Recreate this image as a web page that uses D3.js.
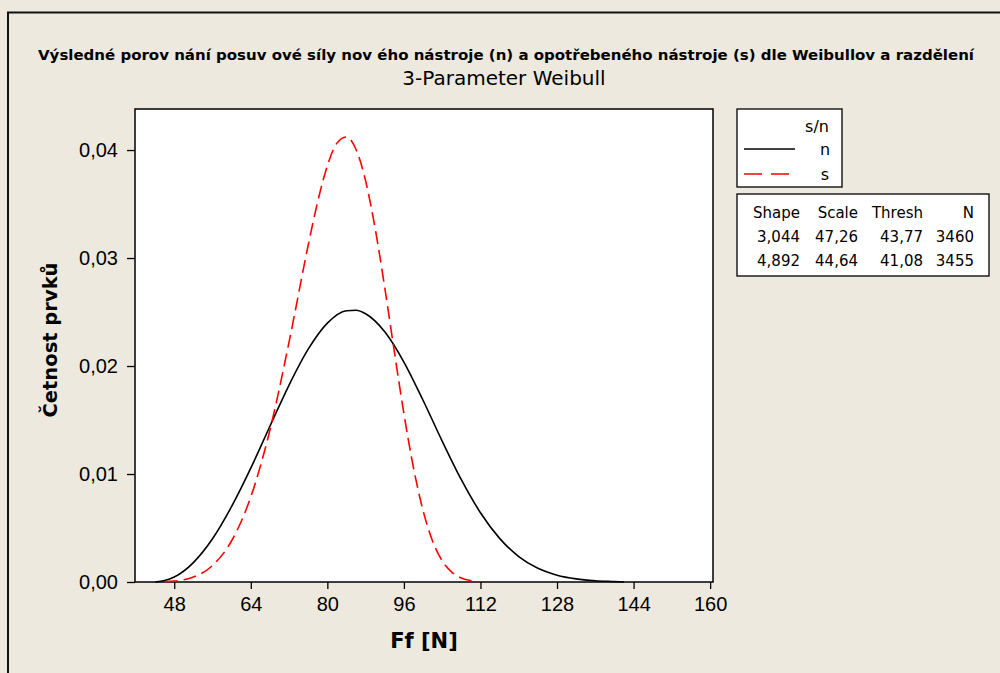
<!DOCTYPE html>
<html><head><meta charset="utf-8">
<script src="https://cdn.jsdelivr.net/npm/d3@7"></script>
<style>
html,body{margin:0;padding:0;background:#EDE9DF;}
svg{display:block;font-family:"DejaVu Sans","Liberation Sans",Arial,sans-serif;}
</style></head>
<body>
<svg id="chart" width="1000" height="673"></svg>
<script>
// ---- data ----
const titleText = "Výsledné porov nání posuv ové síly nov ého nástroje (n) a opotřebeného nástroje (s) dle Weibullov a razdělení";
const subtitleText = "3-Parameter Weibull";
const xLabel = "Ff [N]";
const yLabel = "Četnost prvků";
const xTicks = [48, 64, 80, 96, 112, 128, 144, 160];
const yTicks = [0, 0.01, 0.02, 0.03, 0.04];

const nX = [44, 46, 48, 52, 56, 60, 64, 68, 72, 76, 80, 84, 86, 88, 92, 96, 100, 104, 108, 112, 116, 120, 124, 128, 132, 136, 140, 142];
const nY = [0.0000, 0.00013, 0.00046, 0.0018, 0.0040, 0.0070, 0.01054, 0.01442, 0.01824, 0.02156, 0.02397, 0.02512, 0.02516, 0.02484, 0.02317, 0.02037, 0.01683, 0.01305, 0.00947, 0.00641, 0.00404, 0.00236, 0.00127, 0.00063, 0.00029, 0.00012, 0.00004, 0.0000];

const sX = [46, 48, 50, 52, 56, 60, 64, 68, 72, 76, 78, 80, 82, 84, 86, 88, 90, 92, 94, 96, 98, 100, 102, 104, 106, 108, 110, 111.5];
const sY = [0.00002, 0.00008, 0.00021, 0.00046, 0.00153, 0.00382, 0.00788, 0.01407, 0.02223, 0.03119, 0.03526, 0.03854, 0.04064, 0.04121, 0.04005, 0.03714, 0.03272, 0.02725, 0.02133, 0.01560, 0.01058, 0.00662, 0.00378, 0.00196, 0.00091, 0.00038, 0.00013, 0.00000];

const seriesNames = ["n", "s"];
const legendTitle = "s/n";
const statHeaders = ["Shape", "Scale", "Thresh", "N"];
const statRows = [["3,044", "47,26", "43,77", "3460"], ["4,892", "44,64", "41,08", "3455"]];

// ---- drawing ----
const svg = d3.select("#chart");
const fmt = d => d3.format(".2f")(d).replace(".", ",");

// outer frame
svg.append("path").attr("d", "M8,690 L8,12.5 L1010,12.5")
  .attr("fill", "none").attr("stroke", "#111").attr("stroke-width", 2);

const L = 135, R = 713, T = 109, B = 582;
const x = d3.scaleLinear().domain([39.8, 160.6]).range([L, R]);
const y = d3.scaleLinear().domain([0, 0.0438]).range([B, T]);

svg.append("rect").attr("x", L).attr("y", T).attr("width", R - L).attr("height", B - T)
  .attr("fill", "#fff").attr("stroke", "#000").attr("stroke-width", 1.5);

const xAxis = svg.append("g").attr("transform", `translate(0,${B})`)
  .call(d3.axisBottom(x).tickValues(xTicks).tickSize(7).tickPadding(8).tickSizeOuter(0));
xAxis.select(".domain").remove();
xAxis.selectAll("line").attr("stroke", "#000").attr("stroke-width", 1.3);
xAxis.selectAll("text").attr("font-size", 20).attr("fill", "#000");

const yAxis = svg.append("g").attr("transform", `translate(${L},0)`)
  .call(d3.axisLeft(y).tickValues(yTicks).tickFormat(fmt).tickSize(8).tickPadding(9).tickSizeOuter(0));
yAxis.select(".domain").remove();
yAxis.selectAll("line").attr("stroke", "#000").attr("stroke-width", 1.3);
yAxis.selectAll("text").attr("font-size", 20).attr("fill", "#000");

// curves
const line = d3.line().x(d => x(d[0])).y(d => y(d[1])).curve(d3.curveMonotoneX);
svg.append("path").datum(nX.map((v, i) => [v, nY[i]])).attr("d", line)
  .attr("fill", "none").attr("stroke", "#000").attr("stroke-width", 1.6);
svg.append("path").datum(sX.map((v, i) => [v, sY[i]])).attr("d", line)
  .attr("fill", "none").attr("stroke", "#ff0000").attr("stroke-width", 1.6)
  .attr("stroke-dasharray", "13,6");

// titles
svg.append("text").attr("x", 506).attr("y", 60).attr("text-anchor", "middle")
  .attr("font-size", 14).attr("font-weight", "bold").attr("textLength", 936)
  .attr("lengthAdjust", "spacingAndGlyphs").text(titleText);
svg.append("text").attr("x", 504).attr("y", 85).attr("text-anchor", "middle")
  .attr("font-size", 20).text(subtitleText);
svg.append("text").attr("x", 424).attr("y", 648).attr("text-anchor", "middle")
  .attr("font-size", 21).attr("font-weight", "bold").text(xLabel);
svg.append("text").attr("transform", "translate(57,340) rotate(-90)").attr("text-anchor", "middle")
  .attr("font-size", 19.5).attr("font-weight", "bold").text(yLabel);

// legend box
svg.append("rect").attr("x", 737).attr("y", 109).attr("width", 105).attr("height", 78)
  .attr("fill", "#fff").attr("stroke", "#000").attr("stroke-width", 1.3);
svg.append("text").attr("x", 817).attr("y", 132).attr("text-anchor", "middle").attr("font-size", 16).text(legendTitle);
const legColors = ["#000", "#ff0000"];
const legDash = [null, "18,9"];
seriesNames.forEach((nm, i) => {
  const yy = 149 + i * 25;
  svg.append("line").attr("x1", 744).attr("x2", 795).attr("y1", yy).attr("y2", yy)
    .attr("stroke", legColors[i]).attr("stroke-width", 1.6).attr("stroke-dasharray", legDash[i]);
  svg.append("text").attr("x", 825).attr("y", yy + 6).attr("text-anchor", "middle").attr("font-size", 16).text(nm);
});

// stats table
svg.append("rect").attr("x", 737).attr("y", 194).attr("width", 252).attr("height", 82)
  .attr("fill", "#fff").attr("stroke", "#000").attr("stroke-width", 1.3);
const colRight = [800, 858, 923, 974];
statHeaders.forEach((h, j) => {
  svg.append("text").attr("x", colRight[j]).attr("y", 218).attr("text-anchor", "end").attr("font-size", 15).text(h);
});
statRows.forEach((row, i) => {
  row.forEach((v, j) => {
    svg.append("text").attr("x", colRight[j]).attr("y", 242 + i * 24).attr("text-anchor", "end").attr("font-size", 15).text(v);
  });
});
</script>
</body></html>
